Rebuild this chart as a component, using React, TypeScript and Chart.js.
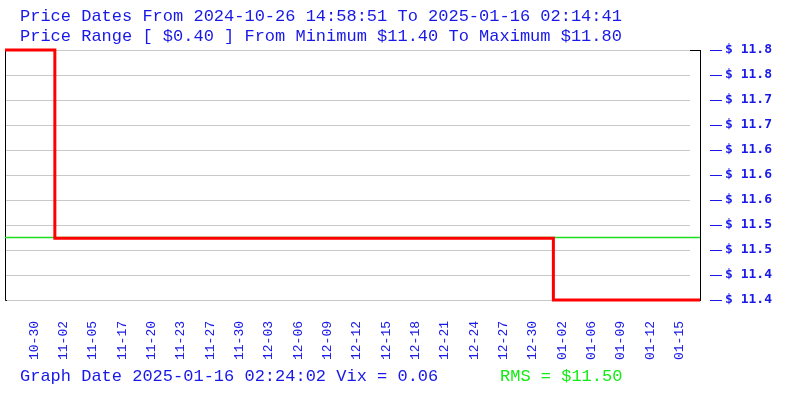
import React, { useEffect, useRef } from "react";
import { Chart, registerables } from "chart.js";

Chart.register(...registerables);

// ---- data ----
const xTickLabels = [
  "10-30", "11-02", "11-05", "11-17", "11-20", "11-23", "11-27", "11-30",
  "12-03", "12-06", "12-09", "12-12", "12-15", "12-18", "12-21", "12-24",
  "12-27", "12-30", "01-02", "01-06", "01-09", "01-12", "01-15",
];
// x positions in label-slot units (label i sits at i+1)
const xMin = 0;
const xMax = 23.7;
const priceX = [0, 1.7, 18.7, 23.7];
const priceY = [11.8, 11.499, 11.4, 11.4];
const rmsX = [0, 23.7];
const rmsY = [11.5, 11.5];
const yTickValues = [11.8, 11.76, 11.72, 11.68, 11.64, 11.6, 11.56, 11.52, 11.48, 11.44, 11.4];
const yMin = 11.4;
const yMax = 11.8;

const titleLine1 = "Price Dates From 2024-10-26 14:58:51 To 2025-01-16 02:14:41";
const titleLine2 = "Price Range [ $0.40 ] From Minimum $11.40 To Maximum $11.80";
const footerLeft = "Graph Date 2025-01-16 02:24:02 Vix = 0.06";
const footerRight = "RMS = $11.50";

const BLUE = "rgb(24,24,232)";
const GREEN = "rgb(20,235,20)";
const MONO = "'Liberation Mono', 'DejaVu Sans Mono', monospace";
const MONO_BOLD = "'DejaVu Sans Mono', 'Liberation Mono', monospace";

const decorPlugin = {
  id: "decor",
  beforeDatasetsDraw(chart: any) {
    const { ctx, chartArea } = chart;
    const y = chart.scales.y;
    ctx.save();
    ctx.strokeStyle = "#c8c8c8";
    ctx.lineWidth = 1;
    yTickValues.forEach((v) => {
      const py = Math.round(y.getPixelForValue(v)) + 0.5;
      ctx.beginPath();
      ctx.moveTo(chartArea.left + 1, py);
      ctx.lineTo(chartArea.right - 10, py);
      ctx.stroke();
    });
    ctx.strokeStyle = "#000";
    ctx.beginPath();
    ctx.moveTo(chartArea.left + 0.5, chartArea.top);
    ctx.lineTo(chartArea.left + 0.5, chartArea.bottom + 0.5);
    ctx.lineTo(chartArea.left + 2, chartArea.bottom + 0.5);
    ctx.stroke();
    ctx.beginPath();
    ctx.moveTo(chartArea.right - 10, chartArea.top + 0.5);
    ctx.lineTo(chartArea.right + 0.5, chartArea.top + 0.5);
    ctx.stroke();
    ctx.restore();
  },
  afterDraw(chart: any) {
    const { ctx, chartArea } = chart;
    const y = chart.scales.y;
    ctx.save();
    ctx.strokeStyle = BLUE;
    ctx.lineWidth = 1;
    yTickValues.forEach((v) => {
      const py = Math.round(y.getPixelForValue(v)) + 0.5;
      ctx.beginPath();
      ctx.moveTo(chartArea.right + 10, py);
      ctx.lineTo(chartArea.right + 22, py);
      ctx.stroke();
    });
    ctx.font = `17px ${MONO}`;
    ctx.textBaseline = "alphabetic";
    ctx.textAlign = "left";
    ctx.fillStyle = BLUE;
    ctx.fillText(titleLine1, 20, 20.5);
    ctx.fillText(titleLine2, 20, 40.5);
    ctx.fillText(footerLeft, 20, 380.5);
    ctx.fillStyle = GREEN;
    ctx.fillText(footerRight, 500, 380.5);
    ctx.restore();
  },
};

export default function App() {
  const ref = useRef<HTMLCanvasElement | null>(null);
  useEffect(() => {
    if (!ref.current) return;
    const chart = new Chart(ref.current, {
      type: "line",
      data: {
        datasets: [
          {
            label: "Price",
            data: priceX.map((x, i) => ({ x, y: priceY[i] })),
            borderColor: "#ff0000",
            borderWidth: 3,
            pointRadius: 0,
            stepped: true,
            fill: false,
            clip: false as any,
          },
          {
            label: "RMS",
            data: rmsX.map((x, i) => ({ x, y: rmsY[i] })),
            borderColor: "rgb(30,220,30)",
            borderWidth: 1.5,
            pointRadius: 0,
            fill: false,
          },
        ],
      },
      options: {
        animation: false,
        responsive: false,
        devicePixelRatio: 1,
        layout: { padding: { left: 5, top: 50, right: 0, bottom: 0 } },
        plugins: {
          legend: { display: false },
          tooltip: { enabled: false },
          title: { display: false },
        },
        scales: {
          x: {
            type: "linear",
            min: xMin,
            max: xMax,
            position: "bottom",
            afterBuildTicks: (s: any) => {
              s.ticks = xTickLabels.map((_, i) => ({ value: i + 1 }));
            },
            afterFit: (s: any) => {
              s.height = 100;
            },
            grid: { display: false, drawTicks: false },
            border: { display: false },
            ticks: {
              autoSkip: false,
              minRotation: 90,
              maxRotation: 90,
              padding: 21,
              color: BLUE,
              font: { family: MONO, size: 13 },
              callback: (v: any) => xTickLabels[Math.round(Number(v)) - 1] ?? "",
            },
          },
          yl: {
            type: "linear",
            position: "left",
            min: yMin,
            max: yMax,
            display: true,
            grid: { display: false, drawTicks: false },
            border: { display: false },
            ticks: { display: false },
            afterFit: (s: any) => {
              s.width = 0;
            },
          },
          y: {
            type: "linear",
            position: "right",
            min: yMin,
            max: yMax,
            afterBuildTicks: (s: any) => {
              s.ticks = yTickValues.map((v) => ({ value: v }));
            },
            afterFit: (s: any) => {
              s.width = 100;
            },
            grid: { display: false, drawTicks: false },
            border: { display: true, color: "#000", width: 1 },
            ticks: {
              padding: 25,
              color: BLUE,
              font: { family: MONO_BOLD, size: 13, weight: "bold" },
              callback: (v: any) => "$ " + Number(v).toFixed(1),
            },
          },
        },
      },
      plugins: [decorPlugin],
    });
    return () => chart.destroy();
  }, []);
  return (
    <div style={{ position: "absolute", left: 0, top: 0, width: 800, height: 400, background: "#fff" }}>
      <canvas ref={ref} width={800} height={400} />
    </div>
  );
}
